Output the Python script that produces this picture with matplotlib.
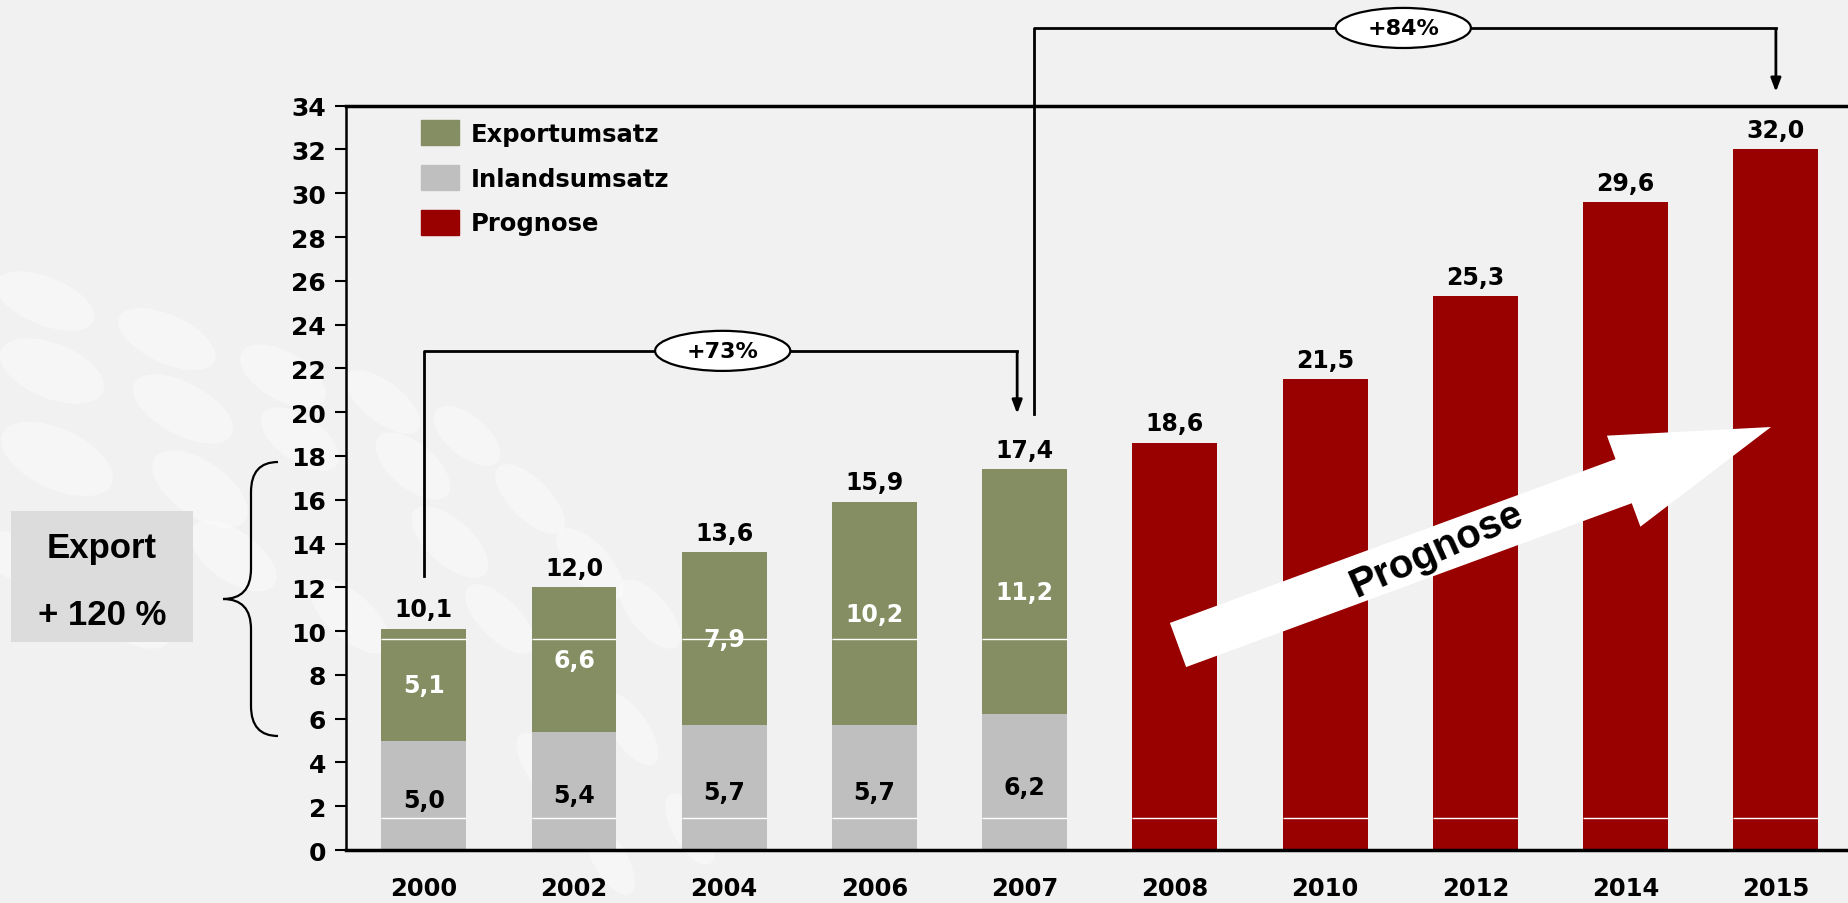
import matplotlib.pyplot as plt
from matplotlib.patches import Ellipse, FancyArrow, Patch, PathPatch
from matplotlib.path import Path
import numpy as np

# data
years = ["2000", "2002", "2004", "2006", "2007", "2008", "2010", "2012", "2014", "2015"]
inland = [5.0, 5.4, 5.7, 5.7, 6.2]
export = [5.1, 6.6, 7.9, 10.2, 11.2]
totals_hist = [10.1, 12.0, 13.6, 15.9, 17.4]
prognose = [18.6, 21.5, 25.3, 29.6, 32.0]
yticks = list(range(0, 35, 2))

c_export = "#858e62"
c_inland = "#bfbfbf"
c_prog = "#990000"
bg = "#f1f1f1"
fw = "bold"
fs = 17


def de(v):
    return f"{v:.1f}".replace(".", ",")


fig = plt.figure(figsize=(18.48, 9.04), dpi=100)
fig.patch.set_facecolor(bg)

# faint background pattern (pixel coords)
bgax = fig.add_axes([0, 0, 1, 1], zorder=0)
bgax.set_xlim(0, 1848)
bgax.set_ylim(904, 0)
bgax.axis("off")
blobs = [(45, 302, 105, 48, 22), (167, 340, 105, 48, 25), (52, 372, 110, 55, 22), (183, 410, 110, 52, 28),
         (283, 377, 95, 48, 30), (57, 460, 120, 60, 25), (200, 490, 110, 55, 35), (300, 440, 90, 45, 35),
         (383, 403, 90, 40, 38), (413, 467, 90, 45, 40), (467, 437, 80, 40, 40), (450, 543, 95, 45, 42),
         (233, 557, 100, 50, 35), (350, 617, 100, 45, 42), (530, 500, 90, 40, 45), (590, 565, 90, 40, 48),
         (500, 620, 90, 40, 45), (570, 670, 90, 38, 50), (650, 615, 85, 38, 50), (630, 730, 85, 36, 55),
         (545, 770, 85, 36, 55), (710, 700, 80, 34, 55), (690, 830, 80, 34, 60), (610, 860, 80, 34, 60),
         (20, 560, 90, 45, 25), (130, 620, 90, 45, 30)]
for (cx, cy, bw, bh, a) in blobs:
    bgax.add_patch(Ellipse((cx, cy), bw, bh, angle=a, facecolor="white", alpha=0.4, lw=0))

ax = fig.add_axes([0.187, 0.0586, 0.813, 0.8234], zorder=1)
ax.set_facecolor("none")

x_hist = np.arange(len(inland))
x_prog = np.arange(len(inland), len(years))
x_all = np.arange(len(years))
w = 0.565

ax.bar(x_hist, inland, w, color=c_inland, zorder=2)
ax.bar(x_hist, export, w, bottom=inland, color=c_export, zorder=2)
ax.bar(x_prog, prognose, w, color=c_prog, zorder=2)

# thin white lines running through the bars
ax.hlines(np.full(len(x_all), 1.45), x_all - w / 2, x_all + w / 2, color="white", lw=1, zorder=3)
ax.hlines(np.full(len(x_hist), 9.64), x_hist - w / 2, x_hist + w / 2, color="white", lw=1, zorder=3)

for i in x_hist:
    ax.text(i, inland[i] / 2 - 0.2, de(inland[i]), ha="center", va="center",
            fontsize=fs, fontweight=fw, color="black", zorder=4)
    ax.text(i, inland[i] + export[i] / 2, de(export[i]), ha="center", va="center",
            fontsize=fs, fontweight=fw, color="white", zorder=4)
    ax.annotate(de(totals_hist[i]), (i, totals_hist[i]), xytext=(0, 9),
                textcoords="offset points", ha="center", va="baseline", fontsize=fs, fontweight=fw)
for j, i in enumerate(x_prog):
    ax.annotate(de(prognose[j]), (i, prognose[j]), xytext=(0, 9),
                textcoords="offset points", ha="center", va="baseline", fontsize=fs, fontweight=fw)

ax.set_xlim(-0.52, 9.48)
ax.set_ylim(0, 34)
ax.set_yticks(yticks)
ax.set_yticklabels([str(t) for t in yticks], fontsize=18, fontweight=fw)
ax.set_xticks(x_all)
ax.set_xticklabels(years, fontsize=17.5, fontweight=fw)
ax.tick_params(axis="x", length=0, pad=19)
ax.tick_params(axis="y", length=8, width=1.5, direction="out", pad=6)
ax.spines["right"].set_visible(False)
ax.spines["left"].set_linewidth(1.8)
ax.spines["bottom"].set_linewidth(2.5)
ax.spines["top"].set_linewidth(2.5)

# legend
handles = [Patch(color=c_export, label="Exportumsatz"),
           Patch(color=c_inland, label="Inlandsumsatz"),
           Patch(color=c_prog, label="Prognose")]
ax.legend(handles=handles, loc="upper left", bbox_to_anchor=(0.039, 1.003), frameon=False,
          prop={"size": 17.5, "weight": fw}, handlelength=1.55, handleheight=1.2, labelspacing=0.78,
          handletextpad=0.5, borderaxespad=0.3)

# growth brackets
lk = dict(color="black", lw=2, clip_on=False, zorder=5)
ap = dict(arrowstyle="-|>,head_length=0.8,head_width=0.3", color="black", lw=2)
ax.plot([0, 0, 3.95], [12.5, 22.8, 22.8], **lk)
ax.annotate("", xy=(3.95, 19.8), xytext=(3.95, 22.85), annotation_clip=False, arrowprops=ap)
ax.add_patch(Ellipse((1.99, 22.8), 0.9, 1.83, facecolor="white", edgecolor="black", lw=1.6,
                     clip_on=False, zorder=6))
ax.text(1.99, 22.8, "+73%", ha="center", va="center", fontsize=16, fontweight=fw, zorder=7)

ax.plot([4.06, 4.06, 9.0], [19.9, 37.55, 37.55], **lk)
ax.annotate("", xy=(9.0, 34.5), xytext=(9.0, 37.6), annotation_clip=False, arrowprops=ap)
ax.add_patch(Ellipse((6.52, 37.55), 0.9, 1.83, facecolor="white", edgecolor="black", lw=1.6,
                     clip_on=False, zorder=6))
ax.text(6.52, 37.55, "+84%", ha="center", va="center", fontsize=16, fontweight=fw, zorder=7)

# overlay: prognosis arrow, brace and export box (pixel coords)
ov = fig.add_axes([0, 0, 1, 1], zorder=3)
ov.set_xlim(0, 1848)
ov.set_ylim(904, 0)
ov.axis("off")

x0, y0, x1, y1 = 1178, 646, 1771, 428
ov.add_patch(FancyArrow(x0, y0, x1 - x0, y1 - y0, width=47, head_width=97, head_length=157,
                        length_includes_head=True, facecolor="white", edgecolor="none"))
ov.text(1436, 550, "Prognose", rotation=24, rotation_mode="anchor", ha="center", va="center",
        fontsize=29, fontweight=fw, family="Liberation Sans")

# curly brace
top, bot, sx, ex, tipx = 463, 737, 251, 278, 223
mid = 600
verts = [(ex, top), (sx, top), (sx, top + 30),
         (sx, mid - 30),
         (sx, mid), (tipx, mid),
         (sx, mid), (sx, mid + 30),
         (sx, bot - 30),
         (sx, bot), (ex, bot)]
codes = [Path.MOVETO, Path.CURVE3, Path.CURVE3,
         Path.LINETO,
         Path.CURVE3, Path.CURVE3,
         Path.CURVE3, Path.CURVE3,
         Path.LINETO,
         Path.CURVE3, Path.CURVE3]
ov.add_patch(PathPatch(Path(verts, codes), facecolor="none", edgecolor="black", lw=1.6))

ov.add_patch(plt.Rectangle((11, 512), 182, 131, facecolor="#dcdcdc", edgecolor="none"))
ov.text(102, 558, "Export", ha="center", va="baseline", fontsize=25, fontweight=fw,
        family="Liberation Sans")
ov.text(102, 625, "+ 120 %", ha="center", va="baseline", fontsize=25, fontweight=fw,
        family="Liberation Sans")

fig.savefig("out.png", dpi=100, facecolor=bg)
